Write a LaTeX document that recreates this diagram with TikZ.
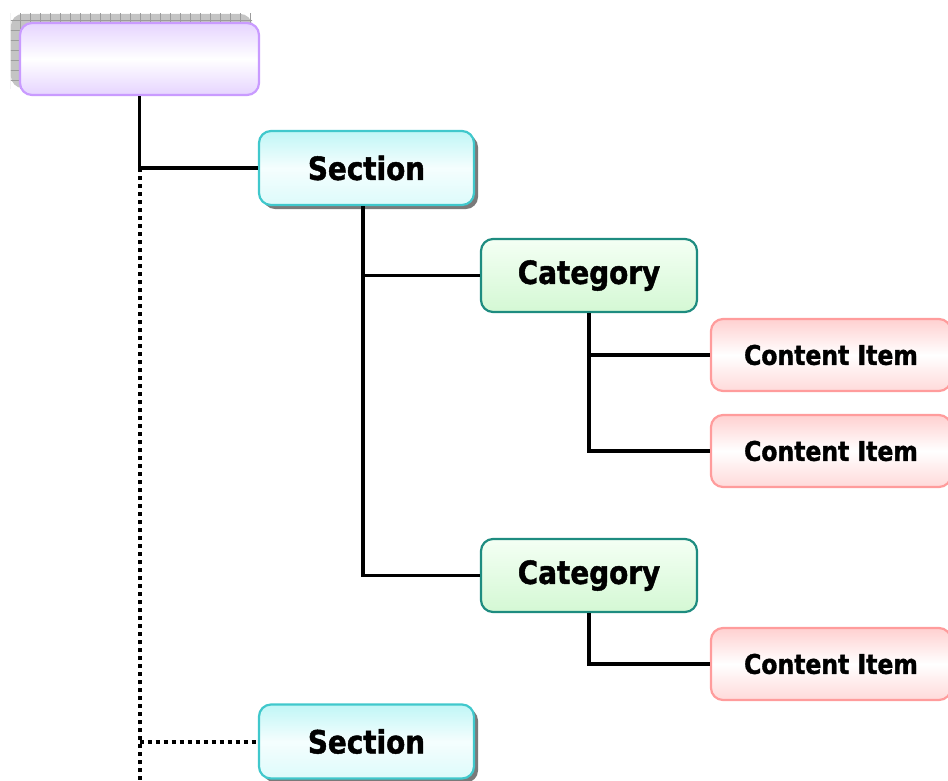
\documentclass[tikz,border=0pt]{standalone}
\usepackage{fontspec}
\setmainfont[FakeStretch=0.87, BoldFeatures={FakeBold=1.4}]{DejaVu Sans}
\usetikzlibrary{shadows,patterns.meta,backgrounds}

\definecolor{rootfill}{HTML}{E6D4FF}
\definecolor{rootedge}{HTML}{C99BFF}
\definecolor{sectop}{HTML}{C0F6F6}
\definecolor{secbot}{HTML}{DDFBFB}
\definecolor{secedge}{HTML}{40C8CC}
\definecolor{cattop}{HTML}{F4FFF4}
\definecolor{catbot}{HTML}{D4F8D4}
\definecolor{catedge}{HTML}{1E8C80}
\definecolor{itemfill}{HTML}{FFD0D0}
\definecolor{itemedge}{HTML}{FF9C9C}
\definecolor{shadowgray}{HTML}{7A7A7A}
\definecolor{hatchback}{HTML}{C4C4C4}
\definecolor{hatchline}{HTML}{9C9C9C}

\tikzset{
  box/.style={rectangle, rounded corners=12pt, line width=2.2pt, inner sep=0pt,
    font=\bfseries, text=black},
  rootbox/.style={box, draw=rootedge, minimum width=239pt, minimum height=72pt,
    top color=rootfill, bottom color=rootfill, middle color=white},
  secbox/.style={box, draw=secedge, minimum width=215pt, minimum height=74pt,
    top color=sectop, bottom color=secbot, middle color=white!70!secbot,
    font=\fontsize{32}{36}\selectfont\bfseries,
    general shadow={shadow xshift=4pt, shadow yshift=-4pt, fill=shadowgray}},
  catbox/.style={box, draw=catedge, minimum width=216pt, minimum height=73pt,
    top color=cattop, bottom color=catbot,
    font=\fontsize{32}{36}\selectfont\bfseries},
  itembox/.style={box, draw=itemedge, minimum width=240pt, minimum height=72pt,
    top color=itemfill, bottom color=itemfill!80, middle color=white,
    font=\fontsize{27}{31}\selectfont\bfseries},
  link/.style={line width=3.6pt, black},
  dotlink/.style={line width=4pt, black, dash pattern=on 4pt off 4pt},
}

\begin{document}
\begin{tikzpicture}[x=1pt, y=-1pt]
  \useasboundingbox (0,0) rectangle (948,780);

  % boxes
  \node[rootbox] (root) at (139.5,59) {};
  \node[secbox] (sec1) at (366.5,168) {Section};
  \node[catbox] (cat1) at (589,275.5) {Category};
  \node[itembox] (ci1) at (831,355) {Content Item};
  \node[itembox] (ci2) at (831,451) {Content Item};
  \node[catbox] (cat2) at (589,575.5) {Category};
  \node[itembox] (ci3) at (831,664) {Content Item};
  \node[secbox] (sec2) at (366.5,741.5) {Section};

  % hatched shadow behind the top box
  \begin{scope}[on background layer]
    \fill[hatchback, rounded corners=12pt]
      ([shift={(-8pt,8pt)}]root.south west) rectangle ([shift={(-8pt,8pt)}]root.north east);
    \fill[pattern={Lines[distance=10pt, angle=0, line width=0.8pt]}, pattern color=hatchline]
      ([shift={(-8pt,8pt)}]root.south west) rectangle ([shift={(-8pt,8pt)}]root.north east);
    \fill[pattern={Lines[distance=10pt, angle=90, line width=0.8pt]}, pattern color=hatchline]
      ([shift={(-8pt,8pt)}]root.south west) rectangle ([shift={(-8pt,8pt)}]root.north east);
  \end{scope}

  % connectors
  \coordinate (trunk) at (root.south |- sec1.west);
  \coordinate (trunkend) at (root.south |- 0,780);
  \coordinate (secdrop) at ([xshift=-3.5pt]sec1.south);

  \begin{scope}[on background layer]
    \draw[dotlink] (trunk) -- (trunkend);
    \draw[dotlink] (trunkend |- sec2.west) -- (sec2.west);
  \end{scope}
  \draw[link] (root.south) |- (sec1.west);
  \draw[link] (secdrop) |- (cat1.west);
  \draw[link] (secdrop) |- (cat2.west);
  \draw[link] (cat1.south) |- (ci1.west);
  \draw[link] (cat1.south) |- (ci2.west);
  \draw[link] (cat2.south) |- (ci3.west);
\end{tikzpicture}
\end{document}
